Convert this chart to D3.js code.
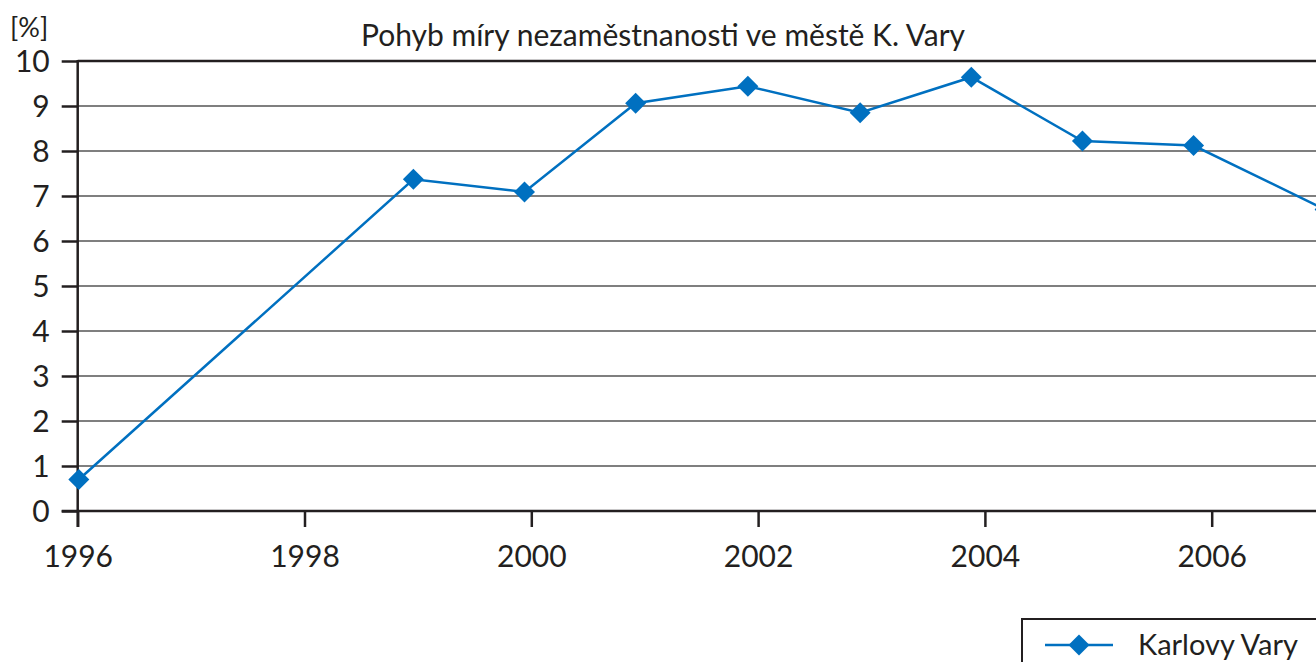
<!DOCTYPE html>
<html>
<head>
<meta charset="utf-8">
<script src="https://cdn.jsdelivr.net/npm/d3@7"></script>
<style>
  html, body { margin: 0; padding: 0; background: #fff; overflow: hidden; }
  svg { display: block; font-family: Lato, "Open Sans", sans-serif; }
</style>
</head>
<body>
<svg id="chart"></svg>
<script>
// values (x = position along the year axis)
const years = [1996.01, 1998.96, 1999.94, 2000.92, 2001.91, 2002.90, 2003.88, 2004.86, 2005.84, 2007.0];
const rates = [0.7, 7.37, 7.09, 9.06, 9.44, 8.85, 9.64, 8.22, 8.12, 6.7];
const xTicks = [1996, 1998, 2000, 2002, 2004, 2006];
const yTicks = [0, 1, 2, 3, 4, 5, 6, 7, 8, 9, 10];
const seriesName = "Karlovy Vary";
const title = "Pohyb míry nezaměstnanosti ve městě K. Vary";

const width = 1316;
const height = 662;
const blue = "#0070c0";
const ink = "#231f20";
const font = "Lato, 'Open Sans', sans-serif";

const svg = d3.select("#chart").attr("width", width).attr("height", height);

const x = d3.scaleLinear().domain([1996, 2006]).range([77.7, 1211.7]);
const y = d3.scaleLinear().domain([0, 10]).range([511, 61]);

// horizontal grid
svg.append("g")
  .selectAll("line")
  .data(yTicks.filter(d => d > 0 && d < 10))
  .enter()
  .append("line")
  .attr("x1", x(1996)).attr("x2", width)
  .attr("y1", d => y(d)).attr("y2", d => y(d))
  .attr("stroke", "#555").attr("stroke-width", 1.5);

// top line at 10
svg.append("line")
  .attr("x1", x(1996)).attr("x2", width)
  .attr("y1", y(10)).attr("y2", y(10))
  .attr("stroke", ink).attr("stroke-width", 2.5);

// y axis
const yAxis = d3.axisLeft(y).tickValues(yTicks).tickSize(16).tickPadding(12);
const gy = svg.append("g").attr("transform", "translate(" + x(1996) + ",0)").call(yAxis)
  .attr("font-family", font).attr("font-size", 30);
gy.select(".domain").remove();
gy.selectAll(".tick line").attr("stroke", ink).attr("stroke-width", 2.5);
gy.selectAll(".tick text")
  .attr("fill", ink)
  .attr("dy", "0.36em");
svg.append("line")
  .attr("x1", x(1996)).attr("x2", x(1996))
  .attr("y1", y(10) - 1).attr("y2", y(0) + 16)
  .attr("stroke", ink).attr("stroke-width", 2.5);

// x axis
const xAxis = d3.axisBottom(x).tickValues(xTicks).tickFormat(d3.format("d")).tickSize(16).tickPadding(19);
const gx = svg.append("g").attr("transform", "translate(0," + y(0) + ")").call(xAxis)
  .attr("font-family", font).attr("font-size", 30);
gx.select(".domain").remove();
gx.selectAll(".tick line").attr("stroke", ink).attr("stroke-width", 2.5);
gx.selectAll(".tick text").attr("fill", ink);
svg.append("line")
  .attr("x1", x(1996) - 16).attr("x2", width)
  .attr("y1", y(0)).attr("y2", y(0))
  .attr("stroke", ink).attr("stroke-width", 2.5);

// series line
const points = years.map((yr, i) => ({ yr: yr, v: rates[i] }));
const line = d3.line().x(d => x(d.yr)).y(d => y(d.v));
svg.append("path")
  .datum(points)
  .attr("d", line)
  .attr("fill", "none")
  .attr("stroke", blue)
  .attr("stroke-width", 2.5);

const diamond = d3.symbol().type(d3.symbolSquare).size(220);
svg.selectAll(".pt")
  .data(points)
  .enter()
  .append("path")
  .attr("class", "pt")
  .attr("d", diamond)
  .attr("transform", d => "translate(" + x(d.yr) + "," + y(d.v) + ") rotate(45)")
  .attr("fill", blue);

// texts
svg.append("text")
  .attr("x", 663).attr("y", 46)
  .attr("text-anchor", "middle")
  .attr("fill", ink)
  .style("font-size", "30px")
  .text(title);

svg.append("text")
  .attr("x", 10).attr("y", 37)
  .attr("fill", ink)
  .style("font-size", "27px")
  .text("[%]");

// legend
const legend = svg.append("g");
legend.append("rect")
  .attr("x", 1022).attr("y", 619)
  .attr("width", 400).attr("height", 100)
  .attr("fill", "#fff")
  .attr("stroke", ink).attr("stroke-width", 2);
legend.append("line")
  .attr("x1", 1045).attr("x2", 1113)
  .attr("y1", 645).attr("y2", 645)
  .attr("stroke", blue).attr("stroke-width", 2.5);
legend.append("path")
  .attr("d", diamond)
  .attr("transform", "translate(1079,645) rotate(45)")
  .attr("fill", blue);
legend.append("text")
  .attr("x", 1138).attr("y", 655)
  .attr("fill", ink)
  .style("font-size", "29px")
  .text(seriesName);
</script>
</body>
</html>
